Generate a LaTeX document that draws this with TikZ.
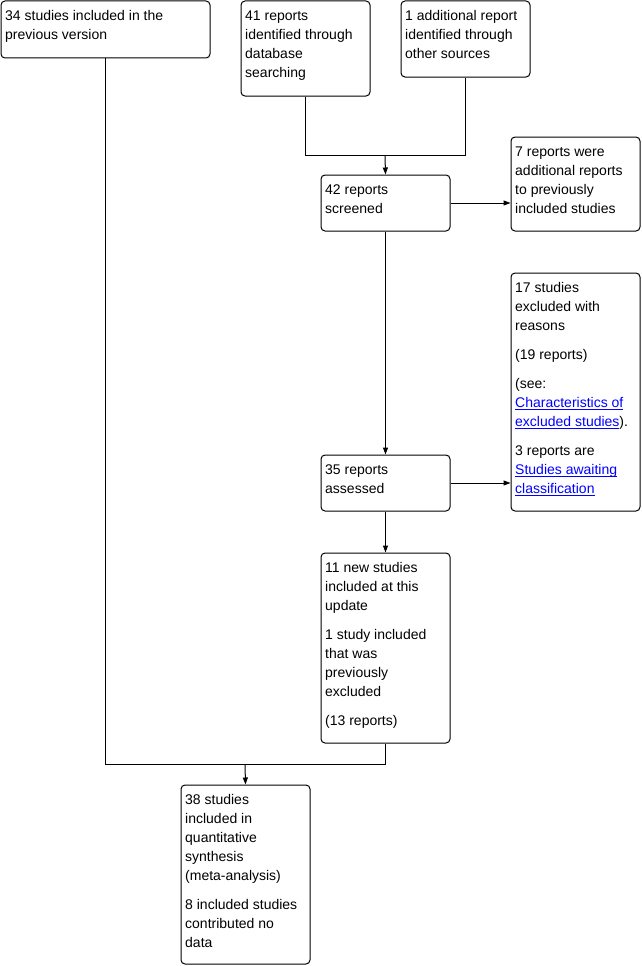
\documentclass[tikz,border=0pt]{standalone}
\usepackage{fontspec}
\setmainfont{Liberation Sans}
\usetikzlibrary{arrows.meta}
\definecolor{linkblue}{RGB}{0,0,255}
\newcommand{\lnk}[1]{\textcolor{linkblue}{\setbox0\hbox{#1}\rlap{\rule[-2.5pt]{\wd0}{1pt}}\box0}}
\newcommand{\fst}{\rule{0pt}{11pt}}
\begin{document}
\begin{tikzpicture}[x=1pt,y=-1pt,
  box/.style={draw, line width=1pt, rounded corners=4pt, anchor=north west, inner sep=0pt},
  txt/.style={anchor=north west, inner sep=0pt, align=left, font=\fontsize{14}{19}\selectfont},
  arr/.style={line width=1pt, -{Triangle[length=7pt,width=5pt]}},
  ln/.style={line width=1pt}]
\useasboundingbox (0,0) rectangle (642,966);

% boxes
\node[box, minimum width=209pt, minimum height=57pt] (A) at (0.5,0.5) {};
\node[box, minimum width=129pt, minimum height=95pt] (B) at (240.5,0.5) {};
\node[box, minimum width=129pt, minimum height=76pt] (C) at (400.5,0.5) {};
\node[box, minimum width=129pt, minimum height=56pt] (D) at (320.5,174.5) {};
\node[box, minimum width=129pt, minimum height=94pt] (E) at (510.5,136.5) {};
\node[box, minimum width=129pt, minimum height=238pt] (F) at (510.5,272.5) {};
\node[box, minimum width=129pt, minimum height=56pt] (G) at (320.5,454.5) {};
\node[box, minimum width=129pt, minimum height=190pt] (H) at (320.5,552.5) {};
\node[box, minimum width=129pt, minimum height=179pt] (I) at (180.5,784.5) {};

% texts
\node[txt] (At) at (5,9) {\fst 34 studies included in the\\previous version};
\node[txt] (Bt) at (245,9) {\fst 41 reports\\identified through\\database\\searching};
\node[txt] (Ct) at (405,9) {\fst 1 additional report\\identified through\\other sources};
\node[txt] (Dt) at (325,183) {\fst 42 reports\\screened};
\node[txt] (Et) at (515,145) {\fst 7 reports were\\additional reports\\to previously\\included studies};
\node[txt] (Ft) at (515,281) {\fst 17 studies\\excluded with\\reasons\\[10pt](19 reports)\\[10pt](see:\\\lnk{Characteristics of}\\\lnk{excluded studies}).\\[10pt]3 reports are\\\lnk{Studies awaiting}\\\lnk{classification}};
\node[txt] (Gt) at (325,463) {\fst 35 reports\\assessed};
\node[txt] (Ht) at (325,561) {\fst 11 new studies\\included at this\\update\\[10pt]1 study included\\that was\\previously\\excluded\\[10pt](13 reports)};
\node[txt] (It) at (185,793) {\fst 38 studies\\included in\\quantitative\\synthesis\\(meta-analysis)\\[10pt]8 included studies\\contributed no\\data};

% connectors
\coordinate (jt) at (385,155.5);
\draw[ln] (B.south) |- (jt) -| (C.south);
\draw[arr] (jt) -- (D.north);
\draw[arr] (D.east) -- (D.east -| E.west);
\draw[arr] (D.south) -- (G.north);
\draw[arr] (G.east) -- (G.east -| F.west);
\draw[arr] (G.south) -- (H.north);
\coordinate (jb) at (245,764.5);
\draw[ln] (A.south) |- (jb) -| (H.south);
\draw[arr] (jb) -- (I.north);
\end{tikzpicture}
\end{document}
